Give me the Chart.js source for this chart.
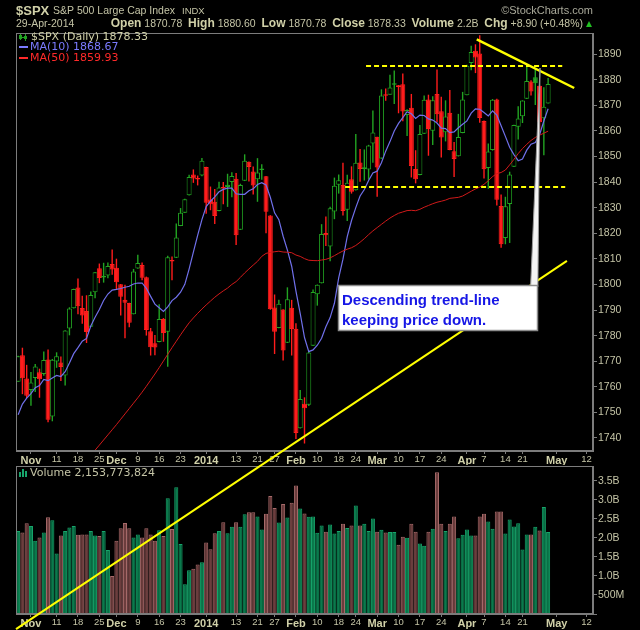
<!DOCTYPE html>
<html>
<head>
<meta charset="utf-8">
<script src="https://cdn.jsdelivr.net/npm/chart.js@4.4.1/dist/chart.umd.min.js"></script>
<style>
  html, body { margin: 0; padding: 0; background: #000; }
  #wrap { position: relative; width: 640px; height: 630px; background: #000; overflow: hidden; }
  canvas { position: absolute; left: 0; top: 0; }
</style>
</head>
<body>
<div id="wrap">
  <canvas id="volumeChart" width="640" height="630"></canvas>
  <canvas id="priceChart" width="640" height="630"></canvas>
</div>
<script>
// Trading days shown (last 10 are empty future slots)
const dates = [
  '2013-10-29','2013-10-30','2013-10-31',
  '2013-11-01','2013-11-04','2013-11-05','2013-11-06','2013-11-07','2013-11-08','2013-11-11','2013-11-12','2013-11-13','2013-11-14',
  '2013-11-15','2013-11-18','2013-11-19','2013-11-20','2013-11-21','2013-11-22','2013-11-25','2013-11-26','2013-11-27','2013-11-29',
  '2013-12-02','2013-12-03','2013-12-04','2013-12-05','2013-12-06','2013-12-09','2013-12-10','2013-12-11','2013-12-12','2013-12-13',
  '2013-12-16','2013-12-17','2013-12-18','2013-12-19','2013-12-20','2013-12-23','2013-12-24','2013-12-26','2013-12-27','2013-12-30','2013-12-31',
  '2014-01-02','2014-01-03','2014-01-06','2014-01-07','2014-01-08','2014-01-09','2014-01-10','2014-01-13','2014-01-14','2014-01-15',
  '2014-01-16','2014-01-17','2014-01-21','2014-01-22','2014-01-23','2014-01-24','2014-01-27','2014-01-28','2014-01-29','2014-01-30','2014-01-31',
  '2014-02-03','2014-02-04','2014-02-05','2014-02-06','2014-02-07','2014-02-10','2014-02-11','2014-02-12','2014-02-13','2014-02-14',
  '2014-02-18','2014-02-19','2014-02-20','2014-02-21','2014-02-24','2014-02-25','2014-02-26','2014-02-27','2014-02-28',
  '2014-03-03','2014-03-04','2014-03-05','2014-03-06','2014-03-07','2014-03-10','2014-03-11','2014-03-12','2014-03-13','2014-03-14',
  '2014-03-17','2014-03-18','2014-03-19','2014-03-20','2014-03-21','2014-03-24','2014-03-25','2014-03-26','2014-03-27','2014-03-28','2014-03-31',
  '2014-04-01','2014-04-02','2014-04-03','2014-04-04','2014-04-07','2014-04-08','2014-04-09','2014-04-10','2014-04-11','2014-04-14',
  '2014-04-15','2014-04-16','2014-04-17','2014-04-21','2014-04-22','2014-04-23','2014-04-24','2014-04-25','2014-04-28','2014-04-29',
  '2014-04-30','2014-05-01','2014-05-02','2014-05-05','2014-05-06','2014-05-07','2014-05-08','2014-05-09','2014-05-12','2014-05-13'
];

const priorClose = 1762.11;

const opens = [
  1762.0,1772.3,1763.2,1758.7,1763.4,1765.7,1765.0,1770.7,1748.4,1769.9,
  1769.5,1764.4,1782.8,1790.7,1798.8,1790.8,1789.6,1783.5,1797.0,1806.3,
  1802.9,1803.5,1808.0,1806.5,1800.1,1794.0,1792.8,1788.4,1806.2,1807.6,
  1802.8,1781.7,1777.0,1777.5,1786.5,1781.5,1809.0,1810.4,1822.9,1828.0,
  1834.9,1843.0,1841.5,1842.6,1845.9,1833.2,1832.3,1828.7,1837.9,1839.0,
  1840.1,1841.3,1821.4,1840.5,1848.0,1844.2,1841.1,1844.7,1842.3,1827.0,
  1791.0,1783.0,1790.2,1777.2,1790.9,1782.7,1743.8,1753.4,1753.0,1776.0,
  1796.2,1800.5,1820.1,1814.8,1828.5,1839.0,1838.9,1829.2,1841.1,1836.8,
  1847.7,1845.8,1844.9,1855.1,1857.7,1849.2,1874.1,1874.2,1878.5,1877.9,
  1878.3,1866.2,1869.1,1845.1,1842.8,1858.9,1872.3,1860.1,1874.5,1867.7,
  1859.5,1867.1,1852.1,1850.1,1859.2,1874.0,1886.6,1891.4,1890.3,1863.9,
  1845.5,1852.6,1872.3,1830.7,1818.2,1831.5,1846.0,1861.7,1865.8,1872.6,
  1879.3,1881.0,1877.7,1865.0,1870.78
];
const highs = [
  1772.1,1775.2,1768.5,1765.7,1768.8,1767.0,1773.7,1774.5,1770.8,1773.4,
  1771.8,1782.0,1791.0,1798.2,1802.3,1795.5,1795.7,1797.2,1804.8,1808.1,
  1808.4,1808.5,1813.6,1810.0,1800.1,1799.8,1792.8,1806.0,1811.5,1808.5,
  1803.0,1782.9,1780.2,1792.2,1786.8,1811.1,1810.9,1823.8,1829.8,1833.4,
  1842.8,1844.9,1842.5,1849.4,1845.9,1838.2,1837.2,1840.1,1840.0,1843.2,
  1843.8,1843.5,1839.3,1850.8,1848.0,1846.0,1849.3,1846.9,1842.3,1827.0,
  1796.0,1793.9,1790.2,1798.8,1793.9,1784.8,1758.7,1755.8,1774.1,1798.0,
  1799.9,1823.5,1826.5,1830.3,1841.7,1842.9,1847.5,1842.8,1846.1,1858.7,
  1852.9,1852.7,1854.5,1867.9,1857.7,1876.2,1876.5,1881.9,1883.6,1877.9,
  1882.4,1868.4,1874.4,1852.4,1862.3,1873.8,1874.1,1873.5,1884.0,1873.3,
  1871.9,1875.9,1855.6,1866.6,1875.2,1885.8,1893.2,1893.8,1897.3,1864.0,
  1855.0,1872.4,1872.5,1835.1,1834.2,1844.0,1862.4,1869.6,1871.9,1884.9,
  1879.8,1884.1,1877.7,1877.0,1880.60
];
const lows = [
  1762.0,1757.2,1755.7,1752.7,1758.0,1755.8,1764.4,1746.2,1746.6,1767.5,
  1762.3,1760.6,1780.2,1790.7,1788.4,1784.7,1777.2,1783.5,1794.7,1800.6,
  1800.8,1802.5,1803.9,1798.2,1787.9,1779.1,1783.4,1788.4,1806.2,1801.7,
  1780.1,1772.3,1772.4,1777.5,1777.7,1767.9,1801.7,1810.4,1822.9,1828.0,
  1834.9,1839.8,1838.8,1842.4,1827.7,1829.1,1823.7,1828.7,1831.4,1830.4,
  1834.2,1815.5,1821.4,1840.5,1840.3,1835.2,1832.4,1841.0,1820.1,1790.2,
  1772.9,1783.0,1770.4,1777.2,1772.3,1739.7,1743.8,1737.9,1752.6,1776.0,
  1791.8,1800.5,1815.1,1809.2,1825.6,1835.6,1827.0,1824.9,1835.6,1836.8,
  1840.2,1840.7,1841.1,1847.7,1834.4,1849.2,1871.9,1874.2,1870.6,1867.0,
  1863.9,1858.1,1841.9,1839.6,1842.8,1858.9,1850.4,1854.6,1863.5,1849.7,
  1856.0,1852.5,1842.1,1850.1,1859.2,1874.0,1883.8,1882.7,1863.3,1841.5,
  1837.5,1852.4,1830.9,1814.4,1815.8,1816.3,1846.0,1856.7,1863.2,1872.6,
  1873.9,1870.2,1859.7,1850.6,1870.78
];
const closes = [
  1771.95,1763.31,1756.54,1761.64,1767.93,1762.97,1770.49,1747.15,1770.61,1771.89,
  1767.69,1782.00,1790.62,1798.18,1791.53,1787.87,1781.37,1795.85,1804.76,1802.48,
  1802.75,1807.23,1805.81,1800.90,1795.15,1792.81,1785.03,1805.09,1808.37,1802.62,
  1782.22,1775.50,1775.32,1786.54,1781.00,1810.65,1809.60,1818.32,1827.99,1833.32,
  1842.02,1841.40,1841.07,1848.36,1831.98,1831.37,1826.77,1837.88,1837.49,1838.13,
  1842.37,1819.20,1838.88,1848.38,1845.89,1838.70,1843.80,1844.86,1828.46,1790.29,
  1781.56,1792.50,1774.20,1794.19,1782.59,1741.89,1755.20,1751.64,1773.43,1797.02,
  1799.84,1819.75,1819.26,1829.83,1838.63,1840.76,1828.75,1839.78,1836.25,1847.61,
  1845.12,1845.16,1854.29,1859.45,1845.73,1873.91,1873.81,1877.03,1878.04,1877.17,
  1867.63,1868.20,1846.34,1841.13,1858.83,1872.25,1860.77,1872.01,1866.52,1857.44,
  1865.62,1852.56,1849.04,1857.62,1872.34,1885.52,1890.90,1888.77,1865.09,1845.04,
  1851.96,1872.18,1833.08,1815.69,1830.61,1842.98,1862.31,1864.85,1871.89,1879.55,
  1875.39,1878.61,1863.40,1869.43,1878.33
];
// Volume in billions of shares
const volumes = [
  2.18,2.14,2.38,2.31,1.92,2.01,2.14,2.54,2.46,1.59,
  2.06,2.18,2.27,2.31,2.08,2.09,2.09,2.18,2.06,2.05,
  2.18,1.68,1.00,1.92,2.25,2.39,2.25,2.01,2.09,2.01,
  2.25,2.09,1.92,2.20,2.05,3.04,2.23,3.33,1.84,0.78,
  1.15,1.19,1.30,1.36,1.88,1.70,2.12,2.18,2.41,2.12,
  2.29,2.41,2.29,2.62,2.67,2.67,2.56,2.22,2.63,3.10,
  2.78,2.40,2.89,2.53,2.92,3.37,2.77,2.64,2.55,2.56,
  2.13,2.32,2.16,2.35,2.11,2.18,2.37,2.26,2.32,2.85,
  2.32,2.37,2.18,2.51,2.16,2.21,2.14,2.15,2.15,1.82,
  2.03,2.00,2.37,2.16,1.85,1.79,2.16,2.24,3.72,2.37,
  2.18,2.37,2.56,1.99,2.08,2.22,2.06,2.06,2.56,2.63,
  2.43,2.24,2.69,2.69,2.11,2.48,2.30,2.38,1.69,2.09,
  2.09,2.29,2.19,2.81,2.154
];
const lastVolume = 2153773824;

const ma10 = [
  1749.08,1753.26,1755.60,1757.31,1759.64,1760.47,1762.88,1762.39,1763.47,1764.45,
  1764.02,1765.89,1769.30,1772.95,1775.31,1777.80,1778.89,1783.76,1787.18,1790.24,
  1793.74,1796.26,1797.78,1798.06,1798.42,1798.91,1799.28,1800.20,1800.56,1800.58,
  1798.52,1795.35,1792.30,1790.87,1789.45,1791.23,1793.69,1795.01,1796.98,1800.05,
  1806.03,1812.62,1819.19,1825.37,1830.47,1832.54,1834.26,1836.22,1837.17,1837.65,
  1837.68,1835.46,1835.24,1835.25,1836.64,1837.37,1839.07,1839.77,1838.87,1834.08,
  1828.00,1825.33,1818.86,1813.45,1807.12,1797.43,1788.57,1779.25,1773.75,1774.42,
  1776.25,1778.98,1783.48,1787.05,1792.65,1802.54,1809.89,1818.71,1824.99,1830.05,
  1834.57,1837.12,1840.62,1843.58,1844.29,1847.61,1852.11,1855.84,1860.02,1862.97,
  1865.22,1867.53,1866.73,1864.90,1866.21,1866.04,1864.74,1864.24,1863.09,1861.11,
  1860.91,1859.35,1859.62,1861.27,1862.62,1863.94,1866.96,1868.63,1868.49,1867.25,
  1865.88,1867.85,1866.25,1862.06,1857.88,1853.63,1850.77,1848.38,1849.06,1852.51,
  1854.85,1855.50,1858.53,1863.90,1868.67
];
const ma50 = [
  1699.2,1701.2,1703.2,1705.2,1707.2,1709.2,1711.2,1713.2,1715.2,1717.2,
  1719.2,1721.2,1723.2,1725.2,1727.2,1729.2,1731.2,1733.2,1735.2,1737.2,
  1739.2,1741.2,1743.2,1745.2,1747.3,1749.4,1751.5,1753.6,1755.7,1757.9,
  1760.2,1762.6,1765.0,1767.5,1770.1,1772.7,1775.3,1777.8,1780.3,1782.7,
  1785.0,1786.9,1788.7,1790.4,1792.0,1793.5,1795.0,1796.3,1797.5,1798.59,
  1800.00,1801.12,1802.76,1804.50,1806.06,1807.57,1809.04,1810.99,1812.15,1812.52,
  1812.79,1813.00,1812.68,1812.60,1812.42,1811.50,1810.97,1810.09,1809.46,1809.35,
  1809.30,1809.55,1809.82,1810.39,1811.26,1812.22,1813.10,1813.79,1814.35,1815.25,
  1816.51,1817.90,1819.48,1820.94,1822.23,1823.50,1824.78,1825.96,1826.96,1827.83,
  1828.35,1828.88,1828.99,1828.84,1829.38,1830.20,1830.88,1831.56,1832.14,1832.53,
  1832.99,1833.66,1833.86,1834.05,1834.58,1835.51,1836.45,1837.33,1838.07,1839.16,
  1840.57,1842.16,1843.34,1843.77,1844.73,1846.75,1848.89,1851.16,1853.13,1854.78,
  1856.29,1857.47,1858.35,1859.14,1859.93
];

// Date axis labels
const tickDates = ['2013-11-01','2013-11-11','2013-11-18','2013-11-25','2013-12-02','2013-12-09','2013-12-16','2013-12-23',
  '2014-01-02','2014-01-13','2014-01-21','2014-01-27','2014-02-03','2014-02-10','2014-02-18','2014-02-24',
  '2014-03-03','2014-03-10','2014-03-17','2014-03-24','2014-04-01','2014-04-07','2014-04-14','2014-04-21',
  '2014-05-01','2014-05-12'];
const tickTexts = ['Nov','11','18','25','Dec','9','16','23','2014','13','21','27','Feb','10','18','24',
  'Mar','10','17','24','Apr','7','14','21','May','12'];
const boldTicks = ['Nov','Dec','2014','Feb','Mar','Apr','May'];

// Drawn annotations, in (bar index, price) units
const risingTrend = [[-0.5, 1665.3], [128.4, 1809.2]];
const fallingTrend = [[107.3, 1895.8], [130.1, 1876.8]];
const resistance = { from: 81.4, to: 127.3, price: 1885.5 };
const support = { from: 76.5, to: 128.0, price: 1838.1 };
const calloutBox = { from: 74.8, to: 121.6, top: 1799.8, bottom: 1781.8 };
const calloutTip = { baseFrom: 119.9, baseTo: 121.6, idx: 122.1, price: 1884.6 };
const calloutText = ['Descending trend-line', 'keeping price down.'];

const GRAY = '#7c7c7c';
const TXT = '#c4c4a6';
const TXT_BOLD = '#d0d0a8';
const UP = '#22a422';
const DOWN = '#ff1c1c';
const FONT = '"Liberation Sans", Arial, sans-serif';

const N = closes.length;
const tickIndex = {};
tickDates.forEach((d, k) => { tickIndex[dates.indexOf(d)] = k; });
function tickLabel(i) { const k = tickIndex[i]; return k === undefined ? '' : tickTexts[k]; }
function isBoldTick(i) { return boldTicks.includes(tickLabel(i)); }

const prevClose = closes.map((c, i) => i === 0 ? priorClose : closes[i - 1]);
const dirColor = closes.map((c, i) => c >= prevClose[i] ? UP : DOWN);
const bodyFill = closes.map((c, i) => c >= opens[i] ? '#000000' : dirColor[i]);
const volFill = dirColor.map(c => c === UP ? '#0a7a4c' : '#6c3d3d');
const volEdge = dirColor.map(c => c === UP ? '#17a56b' : '#a66a6a');

function xAxis(height) {
  return {
    type: 'category',
    offset: true,
    grid: {
      drawOnChartArea: false, offset: false, tickLength: 3,
      color: ctx => tickLabel(ctx.index) ? GRAY : 'rgba(0,0,0,0)'
    },
    border: { color: GRAY },
    ticks: {
      autoSkip: false, maxRotation: 0, minRotation: 0, padding: 0,
      callback: (v, i) => tickLabel(i),
      color: ctx => isBoldTick(ctx.index) ? TXT_BOLD : TXT,
      font: ctx => isBoldTick(ctx.index)
        ? { family: FONT, size: 11, weight: 'bold' }
        : { family: FONT, size: 9.5 }
    },
    afterFit: s => { s.height = height; }
  };
}

function yAxis(opts) {
  return Object.assign({
    position: 'right',
    grid: { drawOnChartArea: false, tickLength: 4, color: GRAY },
    border: { color: GRAY },
    afterFit: s => { s.width = 47; }
  }, opts);
}

// Grey frame round each panel
const framePlugin = {
  id: 'frame',
  afterDraw(chart) {
    const { ctx, chartArea: a } = chart;
    ctx.save();
    ctx.strokeStyle = GRAY;
    ctx.lineWidth = 1;
    ctx.strokeRect(Math.round(a.left) + 0.5, Math.round(a.top) + 0.5,
      Math.round(a.right - a.left) - 1, Math.round(a.bottom - a.top) - 1);
    ctx.restore();
  }
};

// Header, legend and the drawn trend annotations
const priceOverlay = {
  id: 'priceOverlay',
  afterDraw(chart) {
    const { ctx, chartArea: a, scales: { x, y } } = chart;
    const px = i => x.getPixelForValue(i);
    const py = v => y.getPixelForValue(v);
    ctx.save();

    // dashed support / resistance
    ctx.strokeStyle = '#ffff00';
    ctx.lineWidth = 2;
    ctx.setLineDash([5, 3]);
    [resistance, support].forEach(l => {
      ctx.beginPath();
      ctx.moveTo(px(l.from), Math.round(py(l.price)));
      ctx.lineTo(px(l.to), Math.round(py(l.price)));
      ctx.stroke();
    });
    ctx.setLineDash([]);

    // trend lines
    ctx.lineWidth = 2;
    ctx.beginPath();
    ctx.moveTo(px(risingTrend[0][0]), py(risingTrend[0][1]));
    ctx.lineTo(px(risingTrend[1][0]), py(risingTrend[1][1]));
    ctx.stroke();
    ctx.lineWidth = 2.5;
    ctx.beginPath();
    ctx.moveTo(px(fallingTrend[0][0]), py(fallingTrend[0][1]));
    ctx.lineTo(px(fallingTrend[1][0]), py(fallingTrend[1][1]));
    ctx.stroke();

    // callout
    const bx1 = Math.round(px(calloutBox.from)), bx2 = Math.round(px(calloutBox.to));
    const by1 = Math.round(py(calloutBox.top)), by2 = Math.round(py(calloutBox.bottom));
    ctx.beginPath();
    ctx.moveTo(px(calloutTip.baseFrom), by1 + 2);
    ctx.lineTo(px(calloutTip.idx), py(calloutTip.price));
    ctx.lineTo(px(calloutTip.baseTo), by1 + 2);
    ctx.closePath();
    ctx.fillStyle = '#f4f4f4';
    ctx.fill();
    ctx.strokeStyle = '#9a9a9a';
    ctx.lineWidth = 1;
    ctx.stroke();
    ctx.fillStyle = '#ffffff';
    ctx.fillRect(bx1, by1, bx2 - bx1, by2 - by1);
    ctx.strokeStyle = '#8c8c8c';
    ctx.lineWidth = 1.5;
    ctx.strokeRect(bx1 + 0.5, by1 + 0.5, bx2 - bx1 - 1, by2 - by1 - 1);
    ctx.fillStyle = '#1616e6';
    ctx.font = 'bold 15px ' + FONT;
    ctx.textAlign = 'left';
    ctx.textBaseline = 'alphabetic';
    ctx.fillText(calloutText[0], bx1 + 4, by1 + 20);
    ctx.fillText(calloutText[1], bx1 + 4, by1 + 40);

    // legend inside price panel
    const lx = a.left + 3;
    ctx.textBaseline = 'middle';
    ctx.font = '11px "DejaVu Sans"';
    ctx.fillStyle = UP;
    ctx.fillRect(lx + 1, a.top + 1, 1, 6);
    ctx.strokeStyle = UP;
    ctx.lineWidth = 1;
    ctx.strokeRect(lx + 0.5, a.top + 2.5, 2, 3);
    ctx.fillRect(lx + 6, a.top + 1, 1, 7);
    ctx.fillRect(lx + 5, a.top + 3, 3, 3);
    ctx.fillRect(lx + 3, a.top + 4, 2, 1);
    ctx.fillStyle = TXT_BOLD;
    ctx.fillText('$SPX (Daily) ' + closes[N - 1].toFixed(2), lx + 12, a.top + 4);
    ctx.fillStyle = '#7b7bff';
    ctx.fillRect(lx, a.top + 13, 9, 2);
    ctx.fillText('MA(10) ' + ma10[N - 1].toFixed(2), lx + 11, a.top + 14.5);
    ctx.fillStyle = '#ff2a2a';
    ctx.fillRect(lx, a.top + 24, 9, 2);
    ctx.fillText('MA(50) ' + ma50[N - 1].toFixed(2), lx + 11, a.top + 25.5);

    // header
    ctx.textAlign = 'left';
    ctx.fillStyle = TXT_BOLD;
    ctx.font = 'bold 13px ' + FONT;
    ctx.fillText('$SPX', 16, 11);
    ctx.fillStyle = TXT;
    ctx.font = '10.5px ' + FONT;
    ctx.fillText('S&P 500 Large Cap Index', 53, 11);
    ctx.font = '9.5px ' + FONT;
    ctx.fillText('INDX', 182, 11);
    ctx.font = '10.5px ' + FONT;
    ctx.fillText('29-Apr-2014', 16, 24);
    ctx.textAlign = 'right';
    ctx.fillStyle = '#a9a99a';
    ctx.font = '11px ' + FONT;
    ctx.fillText('\u00A9StockCharts.com', a.right, 11);

    const chg = closes[N - 1] - closes[N - 2];
    const pct = chg / closes[N - 2] * 100;
    const parts = [
      ['Open', true], [' ' + opens[N - 1].toFixed(2) + '  ', false],
      ['High', true], [' ' + highs[N - 1].toFixed(2) + '  ', false],
      ['Low', true], [' ' + lows[N - 1].toFixed(2) + '  ', false],
      ['Close', true], [' ' + closes[N - 1].toFixed(2) + '  ', false],
      ['Volume', true], [' ' + volumes[N - 1].toFixed(1) + 'B  ', false],
      ['Chg', true], [' +' + chg.toFixed(2) + ' (+' + pct.toFixed(2) + '%)', false]
    ];
    const fontFor = b => b ? 'bold 12px ' + FONT : '10.5px ' + FONT;
    let total = 0;
    parts.forEach(p => { ctx.font = fontFor(p[1]); total += ctx.measureText(p[0]).width; });
    let cx = a.right - 10 - total;
    ctx.textAlign = 'left';
    parts.forEach(p => {
      ctx.font = fontFor(p[1]);
      ctx.fillStyle = p[1] ? TXT_BOLD : TXT;
      ctx.fillText(p[0], cx, 24);
      cx += ctx.measureText(p[0]).width;
    });
    ctx.fillStyle = '#22c022';
    ctx.beginPath();
    ctx.moveTo(a.right - 7, 27);
    ctx.lineTo(a.right - 1, 27);
    ctx.lineTo(a.right - 4, 21);
    ctx.closePath();
    ctx.fill();

    ctx.restore();
  }
};

const volumeOverlay = {
  id: 'volumeOverlay',
  afterDraw(chart) {
    const { ctx, chartArea: a } = chart;
    ctx.save();
    ctx.fillStyle = '#17a56b';
    [[0, 5], [3, 8], [6, 6]].forEach(b => ctx.fillRect(a.left + 3 + b[0], a.top + 11 - b[1], 2, b[1]));
    ctx.fillStyle = TXT;
    ctx.font = '11px "DejaVu Sans"';
    ctx.textBaseline = 'middle';
    ctx.fillText('Volume ' + lastVolume.toLocaleString('en-US'), a.left + 14, a.top + 7);
    ctx.restore();
  }
};

const commonOptions = {
  responsive: false,
  animation: false,
  devicePixelRatio: 1,
  plugins: { legend: { display: false }, tooltip: { enabled: false } }
};

new Chart(document.getElementById('volumeChart'), {
  type: 'bar',
  data: {
    labels: dates,
    datasets: [{
      data: volumes,
      backgroundColor: volFill,
      borderColor: volEdge,
      borderWidth: 1,
      barPercentage: 0.95,
      categoryPercentage: 1.0
    }]
  },
  options: Object.assign({}, commonOptions, {
    layout: { padding: { left: 16, top: 466, right: 0, bottom: 0 } },
    scales: {
      x: xAxis(16),
      y: yAxis({
        min: 0, max: 3.885,
        ticks: {
          stepSize: 0.5, includeBounds: false, padding: 1,
          color: TXT, font: { family: FONT, size: 10.5 },
          callback: v => v === 0 ? '' : (v < 1 ? Math.round(v * 1000) + 'M' : v.toFixed(1) + 'B')
        }
      })
    }
  }),
  plugins: [framePlugin, volumeOverlay]
});

new Chart(document.getElementById('priceChart'), {
  type: 'bar',
  data: {
    labels: dates,
    datasets: [
      { type: 'line', data: ma50, borderColor: '#d01a1a', borderWidth: 1, pointRadius: 0, order: 0 },
      { type: 'line', data: ma10, borderColor: '#7070ea', borderWidth: 1.2, pointRadius: 0, order: 1 },
      {
        data: opens.map((o, i) => [o, closes[i]]),
        backgroundColor: bodyFill, borderColor: dirColor, borderWidth: 1, borderSkipped: false,
        barThickness: 5, minBarLength: 1.5, inflateAmount: 0, grouped: false, order: 2
      },
      {
        data: lows.map((l, i) => [l, highs[i]]),
        backgroundColor: dirColor, barThickness: 1, inflateAmount: 0.2, grouped: false, order: 3
      }
    ]
  },
  options: Object.assign({}, commonOptions, {
    layout: { padding: { left: 16, top: 33, right: 0, bottom: 165 } },
    scales: {
      x: xAxis(14),
      y: yAxis({
        min: 1734.9, max: 1898.3,
        ticks: {
          stepSize: 10, includeBounds: false, padding: 1,
          color: TXT, font: { family: FONT, size: 10.5 },
          callback: v => v
        }
      })
    }
  }),
  plugins: [framePlugin, priceOverlay]
});
</script>
</body>
</html>
